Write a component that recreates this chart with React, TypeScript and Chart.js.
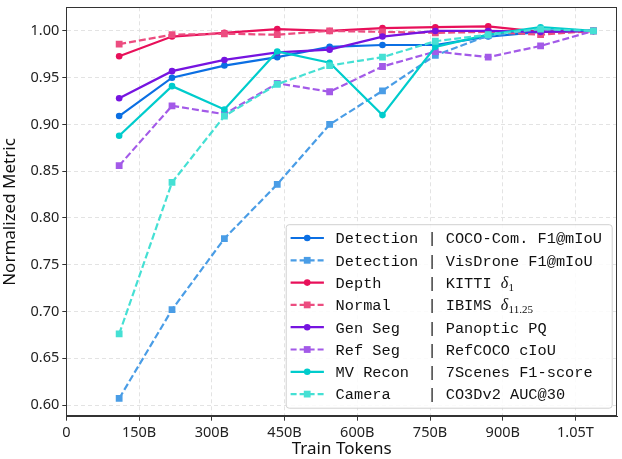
import React, { useEffect, useRef } from "react";
import { Chart, registerables } from "chart.js";

Chart.register(...registerables);

const xTokens = [109, 218, 326, 435, 543, 652, 761, 870, 978, 1087];
const xTickValues = [0, 150, 300, 450, 600, 750, 900, 1050];
const xTickLabels = ["0", "150B", "300B", "450B", "600B", "750B", "900B", "1.05T"];
const yTickValues = [0.6, 0.65, 0.7, 0.75, 0.8, 0.85, 0.9, 0.95, 1.0];

const detCoco = [0.909, 0.95, 0.963, 0.972, 0.983, 0.985, 0.985, 0.994, 0.999, 1.0];
const detVis = [0.607, 0.702, 0.778, 0.836, 0.9, 0.936, 0.974, 0.995, 1.001, 1.0];
const depthKitti = [0.973, 0.994, 0.998, 1.002, 1.0, 1.003, 1.004, 1.005, 0.999, 1.0];
const normalIbims = [0.986, 0.996, 0.997, 0.996, 1.0, 0.999, 0.998, 0.999, 0.996, 1.0];
const genSeg = [0.928, 0.957, 0.969, 0.977, 0.98, 0.994, 1.0, 1.0, 0.999, 1.0];
const refSeg = [0.856, 0.92, 0.911, 0.944, 0.935, 0.962, 0.978, 0.972, 0.984, 1.0];
const mvRecon = [0.888, 0.941, 0.916, 0.978, 0.966, 0.91, 0.983, 0.996, 1.004, 1.0];
const camera = [0.676, 0.838, 0.909, 0.943, 0.963, 0.972, 0.989, 0.996, 1.002, 1.0];

const seriesValues = [detCoco, detVis, depthKitti, normalIbims, genSeg, refSeg, mvRecon, camera];
const legendTasks = ["Detection", "Detection", "Depth", "Normal", "Gen Seg", "Ref Seg", "MV Recon", "Camera"];
const legendMetrics = ["COCO-Com. F1@mIoU", "VisDrone F1@mIoU", "KITTI ", "IBIMS ", "Panoptic PQ", "RefCOCO cIoU", "7Scenes F1-score", "CO3Dv2 AUC@30"];
const legendMathSub = ["", "", "1", "11.25", "", "", "", ""];
const seriesColors = ["#0b6fe3", "#4a9de6", "#e8105a", "#ec4d80", "#7614e0", "#a35ae8", "#00cccc", "#45e0d4"];
const seriesDashed = [false, true, false, true, false, true, false, true];

const MONO = '"Liberation Mono", "DejaVu Sans Mono", monospace';
const SANS = '"Noto Sans", "Open Sans", sans-serif';
const SERIF = '"Liberation Serif", "DejaVu Serif", serif';

function drawMarker(ctx: CanvasRenderingContext2D, x: number, y: number, dashed: boolean, color: string) {
  ctx.fillStyle = color;
  ctx.beginPath();
  if (dashed) {
    ctx.rect(x - 3.4, y - 3.4, 6.8, 6.8);
  } else {
    ctx.arc(x, y, 3.3, 0, Math.PI * 2);
  }
  ctx.fill();
}

const framePlugin = {
  id: "frameAndLegend",
  afterDraw(chart: any) {
    const ctx: CanvasRenderingContext2D = chart.ctx;
    const a = chart.chartArea;
    ctx.save();
    ctx.strokeStyle = "#333";
    ctx.lineWidth = 1;
    ctx.setLineDash([]);
    ctx.strokeRect(Math.round(a.left) + 0.5, Math.round(a.top) + 0.5, Math.round(a.right - a.left) - 1, Math.round(a.bottom - a.top) - 1);

    // legend
    const bx = a.right - 331;
    const by = a.bottom - 192;
    const bw = 326;
    const bh = 183.5;
    ctx.beginPath();
    ctx.roundRect(bx, by, bw, bh, 3);
    ctx.fillStyle = "rgba(255,255,255,0.85)";
    ctx.fill();
    ctx.strokeStyle = "#d0d0d0";
    ctx.lineWidth = 1;
    ctx.stroke();

    const rowH = 22.3;
    for (let i = 0; i < legendTasks.length; i++) {
      const cy = by + 13.3 + i * rowH;
      const color = seriesColors[i];
      const dashed = seriesDashed[i];
      ctx.strokeStyle = color;
      ctx.lineWidth = 2.2;
      ctx.setLineDash(dashed ? [6, 3] : []);
      ctx.beginPath();
      ctx.moveTo(bx + 4.4, cy);
      ctx.lineTo(bx + 37.7, cy);
      ctx.stroke();
      ctx.setLineDash([]);
      drawMarker(ctx, bx + 21, cy, dashed, color);

      const text = legendTasks[i].padEnd(9, " ") + " | " + legendMetrics[i];
      ctx.font = "15.3px " + MONO;
      ctx.fillStyle = "#111";
      ctx.textBaseline = "alphabetic";
      ctx.textAlign = "left";
      const tx = bx + 49.4;
      const base = cy + 5.3;
      ctx.fillText(text, tx, base);
      if (legendMathSub[i]) {
        const w = ctx.measureText(text).width;
        ctx.font = "italic 16px " + SERIF;
        ctx.fillText("δ", tx + w, base);
        const dw = ctx.measureText("δ").width;
        ctx.font = "11px " + SERIF;
        ctx.fillText(legendMathSub[i], tx + w + dw + 0.3, base + 3);
      }
    }
    ctx.restore();
  },
};

export default function App() {
  const ref = useRef<HTMLCanvasElement | null>(null);
  useEffect(() => {
    document.body.style.margin = "0";
    const n = seriesValues.length;
    const datasets = seriesValues.map((vals, i) => ({
      label: legendTasks[i] + " | " + legendMetrics[i],
      data: vals.map((v, j) => ({ x: xTokens[j], y: v })),
      borderColor: seriesColors[i],
      backgroundColor: seriesColors[i],
      borderWidth: 2.2,
      borderDash: seriesDashed[i] ? [7, 3] : [],
      pointStyle: seriesDashed[i] ? "rect" : "circle",
      pointRadius: seriesDashed[i] ? 4.8 : 3.3,
      pointBorderWidth: 0,
      pointHoverRadius: 4,
      tension: 0,
      fill: false,
      order: n - i,
    }));
    const chart = new Chart(ref.current!, {
      type: "line",
      data: { datasets },
      plugins: [framePlugin],
      options: {
        animation: false,
        responsive: false,
        maintainAspectRatio: false,
        layout: { padding: { top: 7.3, right: 3.7, left: 0, bottom: 0 } },
        plugins: { legend: { display: false }, tooltip: { enabled: false } },
        scales: {
          x: {
            type: "linear",
            min: 0,
            max: 1136,
            afterBuildTicks: (s: any) => {
              s.ticks = xTickValues.map((v) => ({ value: v }));
            },
            afterFit: (s: any) => {
              s.height = 42.3;
              s.paddingLeft = 0;
              s.paddingRight = 0;
            },
            ticks: {
              autoSkip: false,
              maxRotation: 0,
              padding: 3,
              color: "#222",
              font: { family: SANS, size: 14.5 },
              callback: (v: any) => xTickLabels[xTickValues.indexOf(Number(v))] ?? "",
            },
            grid: { color: "#e3e3e3", tickColor: "#333", tickLength: 4, lineWidth: 1 },
            border: { display: true, color: "#333", width: 1, dash: [4, 3] },
            title: { display: true, text: "Train Tokens", color: "#111", font: { family: SANS, size: 17 }, padding: { top: 0, bottom: 0 } },
          },
          y: {
            type: "linear",
            min: 0.5875,
            max: 1.0253,
            afterBuildTicks: (s: any) => {
              s.ticks = yTickValues.map((v) => ({ value: v }));
            },
            afterFit: (s: any) => {
              s.width = 66.3;
              s.paddingTop = 0;
              s.paddingBottom = 0;
            },
            ticks: {
              autoSkip: false,
              padding: 3,
              color: "#222",
              font: { family: SANS, size: 14.5 },
              callback: (v: any) => Number(v).toFixed(2),
            },
            grid: { color: "#e3e3e3", tickColor: "#333", tickLength: 4, lineWidth: 1 },
            border: { display: true, color: "#333", width: 1, dash: [4, 3] },
            title: { display: true, text: "Normalized Metric", color: "#111", font: { family: SANS, size: 17 }, padding: { top: 0, bottom: 1 } },
          },
        },
      },
    } as any);
    return () => chart.destroy();
  }, []);
  return (
    <div style={{ position: "absolute", left: 0, top: 0, width: 622, height: 459 }}>
      <canvas ref={ref} width={622} height={459} style={{ width: 622, height: 459, display: "block" }} />
    </div>
  );
}
